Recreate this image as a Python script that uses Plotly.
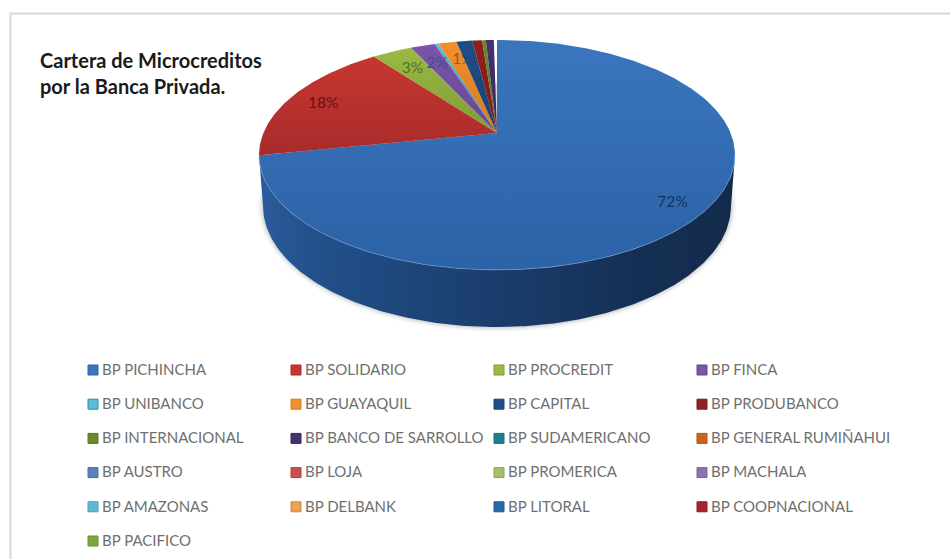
import numpy as np
import plotly.graph_objects as go

# Portfolio share per private bank, in percent
banks = ["BP PICHINCHA", "BP SOLIDARIO", "BP PROCREDIT", "BP FINCA",
         "BP UNIBANCO", "BP GUAYAQUIL", "BP CAPITAL", "BP PRODUBANCO",
         "BP INTERNACIONAL", "BP BANCO DE SARROLLO", "BP SUDAMERICANO", "BP GENERAL RUMIÑAHUI",
         "BP AUSTRO", "BP LOJA", "BP PROMERICA", "BP MACHALA",
         "BP AMAZONAS", "BP DELBANK", "BP LITORAL", "BP COOPNACIONAL",
         "BP PACIFICO"]
shares = [71.9, 17.7, 3.3, 2.0,
          0.3, 1.49, 1.3, 0.8,
          0.3, 0.65, 0.04, 0.05,
          0.03, 0.03, 0.03, 0.02,
          0.02, 0.01, 0.01, 0.01,
          0.01]
light = ["#3a76be", "#c8362f", "#9aba45", "#7b55a8",
         "#5bbcd8", "#f0902c", "#1f4d86", "#8f2020",
         "#6a8a2a", "#47306f", "#1f7f92", "#c9651b",
         "#5a82bd", "#c8504f", "#a8bf6a", "#8c73b5",
         "#5bbad5", "#ef9f50", "#2a68ad", "#a82228",
         "#7ba83a"]
dark = ["#2c62a6", "#a62c2b", "#7f9c35", "#684691",
        "#2a8fab", "#d67a20", "#1b4272", "#7a1b1b",
        "#5a7524", "#3c285e", "#1a6b7c", "#ab5517",
        "#4d6fa1", "#aa4443", "#8fa25a", "#77629a",
        "#4d9eb5", "#cb8744", "#245893", "#8f1d22",
        "#688f31"]
# Which slices carry a percentage label, how far out it sits, and any fine adjustment
label_radius = {0: 0.87, 1: 0.84, 2: 0.78, 3: 0.78, 5: 0.78}
label_color = {0: "#14335e", 1: "#5e1513", 2: "#55702a", 3: "#3d4d90", 5: "#9c5a12"}
label_nudge = {5: (6, -2)}
LABELS_UNDER_NEXT_SLICE = {5}   # this label is partly covered by the neighbouring slice

# Pie geometry on a pixel-sized plotting area
APEX_X, APEX_Y = 497, 133
SEMI_X, SEMI_Y = 233.6, 110.8
TILT = 0.191          # foreshortening of the disc towards the back
BASE_X, BASE_Y = 497, 206
BASE_A, BASE_B = 234, 121


def disc(theta, r=1.0):
    """Clockwise angle from twelve o'clock to a point on the tilted disc."""
    d = 1 + TILT * r * np.cos(theta)
    return (APEX_X + SEMI_X * r * np.sin(theta) / d,
            APEX_Y - SEMI_Y * r * np.cos(theta) / d)


fig = go.Figure()

# Card outline behind the chart: top and left edges only reach the page
fig.add_shape(type="rect", x0=10.5, y0=13.5, x1=980, y1=590,
              line=dict(color="#d6d6d6", width=2), fillcolor="white", layer="below")

# Soft shadow under the rim
phi = np.linspace(0, 2 * np.pi, 181)
for grow, alpha in [(5, 0.04), (3, 0.06), (1.5, 0.08)]:
    fig.add_trace(go.Scatter(
        x=BASE_X + (BASE_A + grow) * np.cos(phi),
        y=BASE_Y + (BASE_B + grow) * np.sin(phi),
        mode="lines", line=dict(width=0), fill="toself",
        fillcolor=f"rgba(40,40,40,{alpha})", hoverinfo="skip", showlegend=False))

# Rim of the largest slice
total = sum(shares)
edges = np.concatenate([[0], np.cumsum(shares)]) / total * 2 * np.pi
rim_t = np.linspace(np.pi - np.arcsin(0.98), edges[1], 200)
rim_x, rim_y = disc(rim_t)
base_p = np.linspace(np.pi, 0, 200)
fig.add_trace(go.Scatter(
    x=np.concatenate([rim_x, BASE_X + BASE_A * np.cos(base_p)]),
    y=np.concatenate([rim_y, BASE_Y + BASE_B * np.sin(base_p)]),
    mode="lines", line=dict(width=0), fill="toself",
    fillgradient=dict(type="horizontal",
                      colorscale=[[0, "#2a5c9c"], [0.12, "#22508a"], [0.45, "#1b3f70"],
                                  [0.8, "#152f54"], [1, "#132a4b"]]),
    hoverinfo="skip", showlegend=False))


def add_label(i):
    lx, ly = disc((edges[i] + edges[i + 1]) / 2, label_radius[i])
    dx, dy = label_nudge.get(i, (0, 0))
    fig.add_trace(go.Scatter(
        x=[lx + dx], y=[ly + 2 + dy], mode="text", text=[f"{round(shares[i])}%"],
        textposition="middle center",
        textfont=dict(family="Lato", size=15.5, color=label_color[i]),
        hoverinfo="skip", showlegend=False))


# Top face, one polygon per slice
for i, name in enumerate(banks):
    t = np.linspace(edges[i], edges[i + 1], max(3, int(shares[i] * 6)))
    ex, ey = disc(t)
    fig.add_trace(go.Scatter(
        x=np.concatenate([[APEX_X], ex, [APEX_X]]),
        y=np.concatenate([[APEX_Y], ey, [APEX_Y]]),
        mode="lines", line=dict(width=0), fill="toself",
        fillgradient=dict(type="vertical", colorscale=[[0, dark[i]], [1, light[i]]]),
        name=name, hovertemplate=f"{name}: {shares[i]}%<extra></extra>", showlegend=False))
    if i in LABELS_UNDER_NEXT_SLICE:
        add_label(i)

# Pale highlight where the top face meets the rim
fig.add_trace(go.Scatter(x=rim_x, y=rim_y, mode="lines",
                         line=dict(color="rgba(120,165,215,0.55)", width=1),
                         hoverinfo="skip", showlegend=False))

for i in label_radius:
    if i not in LABELS_UNDER_NEXT_SLICE:
        add_label(i)

# Key laid out in four columns
COLS, COL_X, ROW_Y, COL_STEP, ROW_STEP = 4, 93, 370, 203, 34.2
TEXT_GAP = 9
key_col = [k % COLS for k in range(len(banks))]
key_row = [k // COLS for k in range(len(banks))]
key_x = [COL_X + c * COL_STEP for c in key_col]
key_y = [ROW_Y + r * ROW_STEP for r in key_row]
fig.add_trace(go.Scatter(
    x=key_x, y=key_y, mode="markers",
    marker=dict(symbol="square", size=10, color=light, line=dict(color=dark, width=1)),
    hoverinfo="skip", showlegend=False))
fig.add_trace(go.Scatter(
    x=[kx + TEXT_GAP for kx in key_x], y=[ky + 1 for ky in key_y], mode="text", text=banks,
    textposition="middle right",
    textfont=dict(family="Lato", size=15, color="#6f6f6f"),
    hoverinfo="skip", showlegend=False))

fig.add_annotation(x=38, y=73, xref="x", yref="y", xanchor="left", yanchor="middle",
                   text="<b>Cartera de Microcreditos<br>por la Banca Privada.</b>",
                   showarrow=False, align="left",
                   font=dict(family="Lato", size=20, color="#1a1a1a"))

fig.update_xaxes(range=[0, 950], visible=False, fixedrange=True)
fig.update_yaxes(range=[559, 0], visible=False, fixedrange=True)
fig.update_layout(width=950, height=559, margin=dict(l=0, r=0, t=0, b=0),
                  paper_bgcolor="white", plot_bgcolor="white", showlegend=False)
fig.write_html("out.html")
